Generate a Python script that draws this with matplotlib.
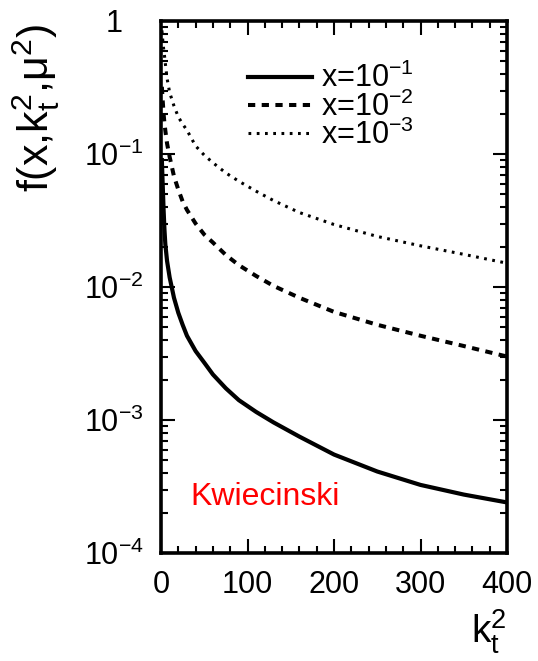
import numpy as np
import matplotlib
matplotlib.use("Agg")
import matplotlib.pyplot as plt
from matplotlib.ticker import MultipleLocator, LogLocator, NullFormatter, FixedLocator

plt.rcParams['font.family'] = ['Liberation Sans', 'DejaVu Sans']
plt.rcParams['mathtext.default'] = 'regular'

# data
kt2 = [1, 2, 3, 4, 5, 7, 10, 15, 20, 25, 30, 40, 50, 60, 75, 90, 110, 130,
       160, 200, 250, 300, 350, 400]
f_x1 = [0.09, 0.058, 0.038, 0.027, 0.021, 0.0157, 0.0118, 0.0083, 0.0064,
        0.0052, 0.0043, 0.0033, 0.0027, 0.0022, 0.00173, 0.00141, 0.00115,
        0.00096, 0.00075, 0.00055, 0.00041, 0.000325, 0.000275, 0.00024]
f_x2 = [0.32, 0.25, 0.20, 0.17, 0.15, 0.12, 0.095, 0.068, 0.054, 0.044,
        0.038, 0.030, 0.0248, 0.0216, 0.0174, 0.0146, 0.0121, 0.0102,
        0.0083, 0.0065, 0.0052, 0.0043, 0.0036, 0.0030]
f_x3 = [0.85, 0.72, 0.62, 0.55, 0.48, 0.37, 0.29, 0.23, 0.19, 0.168,
        0.151, 0.115, 0.098, 0.086, 0.072, 0.0624, 0.0525, 0.0447,
        0.0363, 0.0295, 0.024, 0.0204, 0.0176, 0.0151]
labels = [r'x=10$^{-1}$', r'x=10$^{-2}$', r'x=10$^{-3}$']
xticks = [0, 100, 200, 300, 400]
yticks = [1e-4, 1e-3, 1e-2, 1e-1, 1]
yticklabels = [r'10$^{-4}$', r'10$^{-3}$', r'10$^{-2}$', r'10$^{-1}$', '1']

W, H = 538, 661
fig = plt.figure(figsize=(W / 100, H / 100), dpi=100)
ax = fig.add_axes([161 / W, 1 - 553 / H, (507 - 161) / W, (553 - 21) / H])

l1, = ax.plot(kt2, f_x1, color='black', lw=3.0, solid_joinstyle='round')
l2, = ax.plot(kt2, f_x2, color='black', lw=2.9, linestyle=(0, (1.8, 1.6)))
l3, = ax.plot(kt2, f_x3, color='black', lw=2.2, linestyle=(0, (0.9, 1.8)))

ax.set_yscale('log')
ax.set_xlim(0, 400)
ax.set_ylim(1e-4, 1)

ax.xaxis.set_major_locator(FixedLocator(xticks))
ax.xaxis.set_minor_locator(MultipleLocator(20))
ax.set_xticklabels([str(v) for v in xticks])
ax.yaxis.set_major_locator(FixedLocator(yticks))
ax.yaxis.set_minor_locator(LogLocator(base=10, subs=np.arange(2, 10)))
ax.yaxis.set_minor_formatter(NullFormatter())
ax.set_yticklabels(yticklabels)

for sp in ax.spines.values():
    sp.set_linewidth(2.6)

ax.tick_params(which='both', direction='in', top=True, right=True, width=1.5, labelsize=22)
ax.tick_params(which='major', length=10)
ax.tick_params(which='minor', length=5)
ax.tick_params(axis='y', pad=34)
ax.tick_params(axis='x', pad=12)
for t in ax.get_yticklabels():
    t.set_horizontalalignment('center')

leg = ax.legend([l1, l2, l3], labels, loc='upper left',
                bbox_to_anchor=(248 / W, 1 - 63 / H), bbox_transform=fig.transFigure,
                frameon=False, fontsize=22, handlelength=2.1, handletextpad=0.3,
                labelspacing=-0.1, borderpad=0, borderaxespad=0)

ax.text(190 / W, 1 - 497 / H, 'Kwiecinski', transform=fig.transFigure, color='red',
        fontsize=23, ha='left', va='center')

fig.text(36 / W, 1 - 24 / H, r'f(x,k$_t^2$,$\mu^2$)', rotation=90, ha='center', va='top',
         fontsize=31)
fig.text(507 / W, 1 - 643 / H, r'k$_t^2$', ha='right', va='baseline', fontsize=28)

fig.savefig('out.png', dpi=100)
